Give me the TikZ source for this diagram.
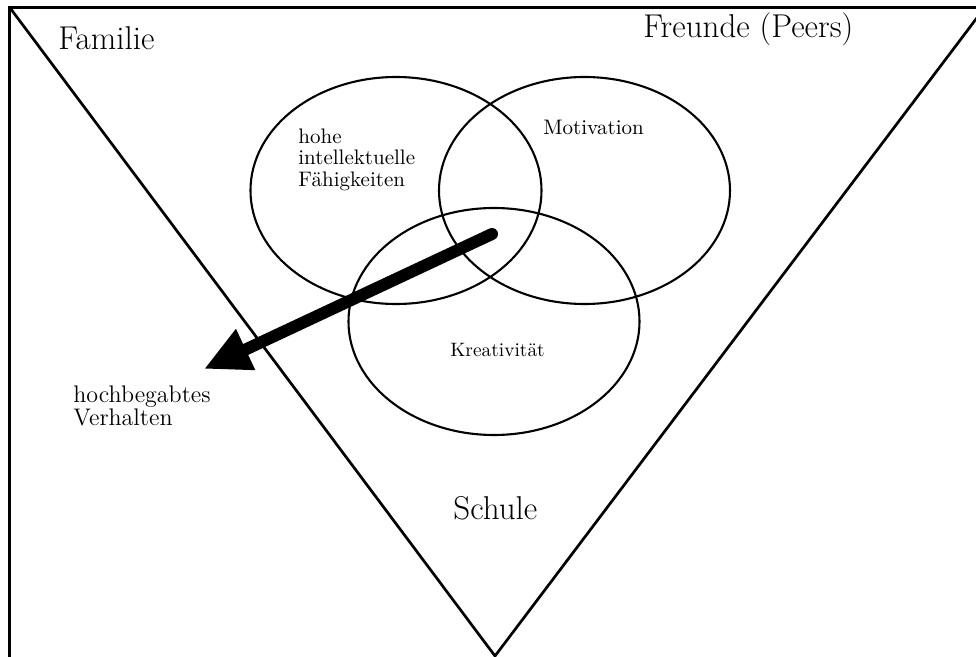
\documentclass[tikz,border=0pt]{standalone}
\usetikzlibrary{shapes.geometric,arrows.meta}
\begin{document}
\begin{tikzpicture}[x=0.5pt,y=-0.5pt,
  frameline/.style={line width=1.6pt},
  vline/.style={line width=1.35pt, line join=miter},
  blob/.style={ellipse, draw, line width=1.05pt, minimum width=145.5pt, minimum height=113.5pt, inner sep=0pt, outer sep=0pt},
  bigtext/.style={font=\fontsize{16.5pt}{19pt}\selectfont, inner sep=0pt, anchor=base west},
  smalltext/.style={font=\fontsize{10.5pt}{10.75pt}\selectfont, inner sep=0pt, align=left, anchor=north west},
  bigarrow/.style={line width=6pt, line cap=round, -{Triangle[length=23pt,width=21pt]}}
]
\useasboundingbox (0,0) rectangle (976,657);
% frame
\coordinate (fr) at (990,7.5);
\coordinate (fc) at (9.5,7.5);
\coordinate (fb) at (9.5,670);
\draw[frameline] (fr) -- (fc) -- (fb);
% inverted triangle
\coordinate (tl) at (10.5,8.5);
\coordinate (tb) at (495,656);
\coordinate (tr) at (984,8.5);
\draw[vline] (tl) -- (tb) -- (tr);
% ellipses
\node[blob] (intel) at (396,190.5) {};
\node[blob] (motiv) at (584.5,190.5) {};
\node[blob] (kreat) at (494,321.5) {};
% arrow
\coordinate (as) at (492,234);
\coordinate (at) at (204,369);
\draw[bigarrow] (as) -- (at);
% texts
\node[bigtext] (familie) at (58,50) {Familie};
\node[bigtext] (freunde) at (643,38) {Freunde (Peers)};
\node[bigtext] (schule) at (453,520) {Schule};
\node[smalltext] (fhigk) at (298,128.4) {hohe\\intellektuelle\\Fähigkeiten};
\node[smalltext, anchor=base west] (mot) at (543,135) {Motivation};
\node[smalltext, anchor=base west, font=\fontsize{9.7pt}{11pt}\selectfont] (kre) at (450,357) {Kreativität};
\node[smalltext, font=\fontsize{12pt}{11.5pt}\selectfont] (hoch) at (73,385.3) {hochbegabtes\\Verhalten};
\end{tikzpicture}
\end{document}
